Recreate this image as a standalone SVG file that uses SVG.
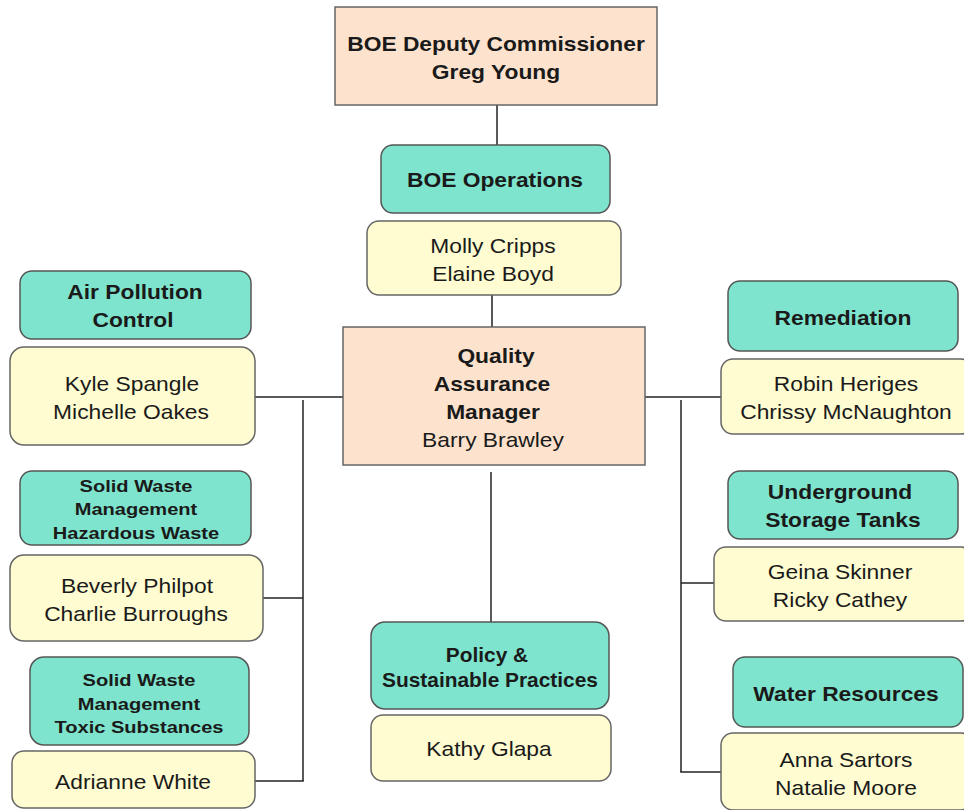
<svg xmlns="http://www.w3.org/2000/svg" width="964" height="810" viewBox="0 0 964 810">
<style>
.mgr{fill:#fde3cd;stroke:#666;stroke-width:1.5}
.dept{fill:#7ee4cd;stroke:#555;stroke-width:1.5}
.ppl{fill:#fefcd0;stroke:#666;stroke-width:1.5}
text{font-family:"Liberation Sans",Arial,sans-serif;font-size:20px;fill:#1a1a1a;text-anchor:middle}
.b{font-weight:bold}
.s{font-size:17px;font-weight:bold}
.conn line{stroke:#222;stroke-width:1.5}
</style>
<rect width="964" height="810" fill="#fff"/>
<g class="conn">
<line x1="497" y1="105" x2="497" y2="145"/>
<line x1="492" y1="295" x2="492" y2="327"/>
<line x1="491" y1="472" x2="491" y2="622"/>
<line x1="255" y1="397" x2="343" y2="397"/>
<line x1="303" y1="400" x2="303" y2="781"/>
<line x1="263" y1="598" x2="303" y2="598"/>
<line x1="255" y1="781" x2="303.75" y2="781"/>
<line x1="645" y1="397" x2="721" y2="397"/>
<line x1="681" y1="400" x2="681" y2="772"/>
<line x1="681" y1="583" x2="714" y2="583"/>
<line x1="680.25" y1="772" x2="721" y2="772"/>
</g>
<g id="deputy"><rect class="mgr" x="335" y="7" width="322" height="98"/><text class="b" transform="translate(496 50.5) scale(1.14 1)">BOE Deputy Commissioner</text><text class="b" transform="translate(496 78.5) scale(1.14 1)">Greg Young</text></g>
<g id="ops"><rect class="dept" x="381" y="145" width="229" height="68" rx="12"/><text class="b" transform="translate(495 186.5) scale(1.14 1)">BOE Operations</text></g>
<g id="ops-ppl"><rect class="ppl" x="367" y="221" width="254" height="74" rx="12"/><text transform="translate(493 252.5) scale(1.14 1)">Molly Cripps</text><text transform="translate(493 280.5) scale(1.14 1)">Elaine Boyd</text></g>
<g id="qa"><rect class="mgr" x="343" y="327" width="302" height="138"/><text class="b" transform="translate(496 362.5) scale(1.14 1)">Quality</text><text class="b" transform="translate(492 390.5) scale(1.14 1)">Assurance</text><text class="b" transform="translate(493 418.5) scale(1.14 1)">Manager</text><text transform="translate(493 446.5) scale(1.14 1)">Barry Brawley</text></g>
<g id="air"><rect class="dept" x="20" y="271" width="231" height="68" rx="12"/><text class="b" transform="translate(135 298.5) scale(1.14 1)">Air Pollution</text><text class="b" transform="translate(133 326.5) scale(1.14 1)">Control</text></g>
<g id="air-ppl"><rect class="ppl" x="10" y="347" width="245" height="98" rx="14"/><text transform="translate(132 390.5) scale(1.14 1)">Kyle Spangle</text><text transform="translate(131 418.5) scale(1.14 1)">Michelle Oakes</text></g>
<g id="swhw"><rect class="dept" x="20" y="471" width="231" height="74" rx="12"/><text class="s" transform="translate(136 491.5) scale(1.18 1)">Solid Waste</text><text class="s" transform="translate(136 514.5) scale(1.18 1)">Management</text><text class="s" transform="translate(136 538.5) scale(1.18 1)">Hazardous Waste</text></g>
<g id="swhw-ppl"><rect class="ppl" x="10" y="555" width="253" height="86" rx="14"/><text transform="translate(137 592.5) scale(1.14 1)">Beverly Philpot</text><text transform="translate(136 620.5) scale(1.14 1)">Charlie Burroughs</text></g>
<g id="swts"><rect class="dept" x="30" y="657" width="219" height="88" rx="14"/><text class="s" transform="translate(139 685.5) scale(1.18 1)">Solid Waste</text><text class="s" transform="translate(139 709.5) scale(1.18 1)">Management</text><text class="s" transform="translate(139 732.5) scale(1.18 1)">Toxic Substances</text></g>
<g id="swts-ppl"><rect class="ppl" x="12" y="751" width="243" height="57" rx="12"/><text transform="translate(133 788.5) scale(1.14 1)">Adrianne White</text></g>
<g id="rem"><rect class="dept" x="728" y="281" width="230" height="70" rx="12"/><text class="b" transform="translate(843 324.5) scale(1.14 1)">Remediation</text></g>
<g id="rem-ppl"><rect class="ppl" x="721" y="359" width="252" height="75" rx="12"/><text transform="translate(846 390.5) scale(1.14 1)">Robin Heriges</text><text transform="translate(846 418.5) scale(1.14 1)">Chrissy McNaughton</text></g>
<g id="ust"><rect class="dept" x="728" y="471" width="230" height="68" rx="12"/><text class="b" transform="translate(840 498.5) scale(1.14 1)">Underground</text><text class="b" transform="translate(843 526.5) scale(1.14 1)">Storage Tanks</text></g>
<g id="ust-ppl"><rect class="ppl" x="714" y="547" width="259" height="74" rx="12"/><text transform="translate(840 578.5) scale(1.14 1)">Geina Skinner</text><text transform="translate(840 606.5) scale(1.14 1)">Ricky Cathey</text></g>
<g id="water"><rect class="dept" x="733" y="657" width="230" height="70" rx="12"/><text class="b" transform="translate(846 700.5) scale(1.14 1)">Water Resources</text></g>
<g id="water-ppl"><rect class="ppl" x="721" y="733" width="252" height="77" rx="12"/><text transform="translate(846 766.5) scale(1.14 1)">Anna Sartors</text><text transform="translate(846 794.5) scale(1.14 1)">Natalie Moore</text></g>
<g id="policy"><rect class="dept" x="371" y="622" width="238" height="87" rx="14"/><text class="b" transform="translate(487 661.5) scale(1.045 1)">Policy &amp;</text><text class="b" transform="translate(490 686.5) scale(1.045 1)">Sustainable Practices</text></g>
<g id="policy-ppl"><rect class="ppl" x="371" y="715" width="240" height="66" rx="12"/><text transform="translate(489 755.5) scale(1.14 1)">Kathy Glapa</text></g>
</svg>
